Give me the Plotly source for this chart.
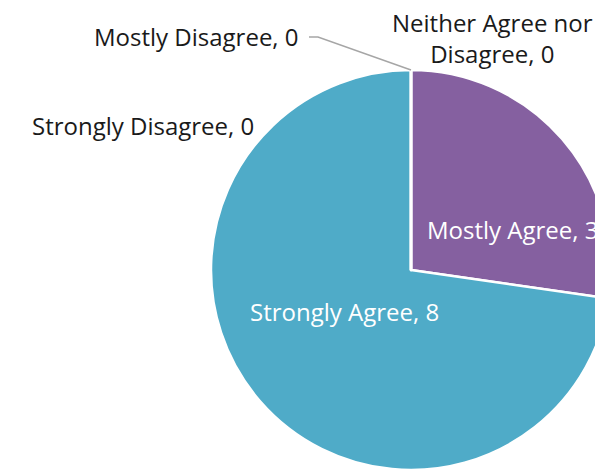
import plotly.graph_objects as go

categories = ["Mostly Agree", "Strongly Agree", "Strongly Disagree", "Mostly Disagree",
              "Neither Agree nor Disagree"]
values = [3, 8, 0, 0, 0]
label_texts = ["Mostly Agree, 3", "Strongly Agree, 8", "Strongly Disagree, 0",
               "Mostly Disagree, 0", "Neither Agree nor<br>Disagree, 0"]
colors = ["#8560A0", "#4FABC8", "#9BBB59", "#C0504D", "#F79646"]

W, H = 700, 470
# label placements in pixels (x, y, anchor, font colour)
label_pos = [
    (425, 230, "left", "white"),
    (344, 311, "center", "white"),
    (143, 125, "center", "#1a1a1a"),
    (196, 37, "center", "#1a1a1a"),
    (492, 38, "center", "#1a1a1a"),
]

fig = go.Figure(go.Pie(
    labels=categories, values=values, sort=False, direction="clockwise", rotation=0,
    marker=dict(colors=colors, line=dict(color="white", width=2.5)),
    textinfo="none", hoverinfo="label+value", showlegend=False,
    domain=dict(x=[211 / W, 611 / W], y=[0, 400 / H]),
))

annotations = []
for txt, (px, py, anchor, col) in zip(label_texts, label_pos):
    annotations.append(dict(
        x=px / W, y=1 - py / H, xref="paper", yref="paper", text=txt,
        showarrow=False, xanchor=anchor, yanchor="middle", align="center",
        font=dict(family="Open Sans", size=24, color=col),
    ))
fig.update_layout(
    width=W, height=H, margin=dict(l=0, r=0, t=0, b=0),
    paper_bgcolor="white", plot_bgcolor="white",
    annotations=annotations,
    shapes=[dict(type="path", xref="paper", yref="paper",
                 path=f"M {309 / W} {1 - 37 / H} L {318 / W} {1 - 37 / H} L {411 / W} {1 - 70 / H}",
                 line=dict(color="#A6A6A6", width=1.5))],
)
fig.write_html("out.html", post_script=(
    "document.body.style.margin='0';document.body.style.overflow='hidden';"
    "document.documentElement.style.overflow='hidden';"))
